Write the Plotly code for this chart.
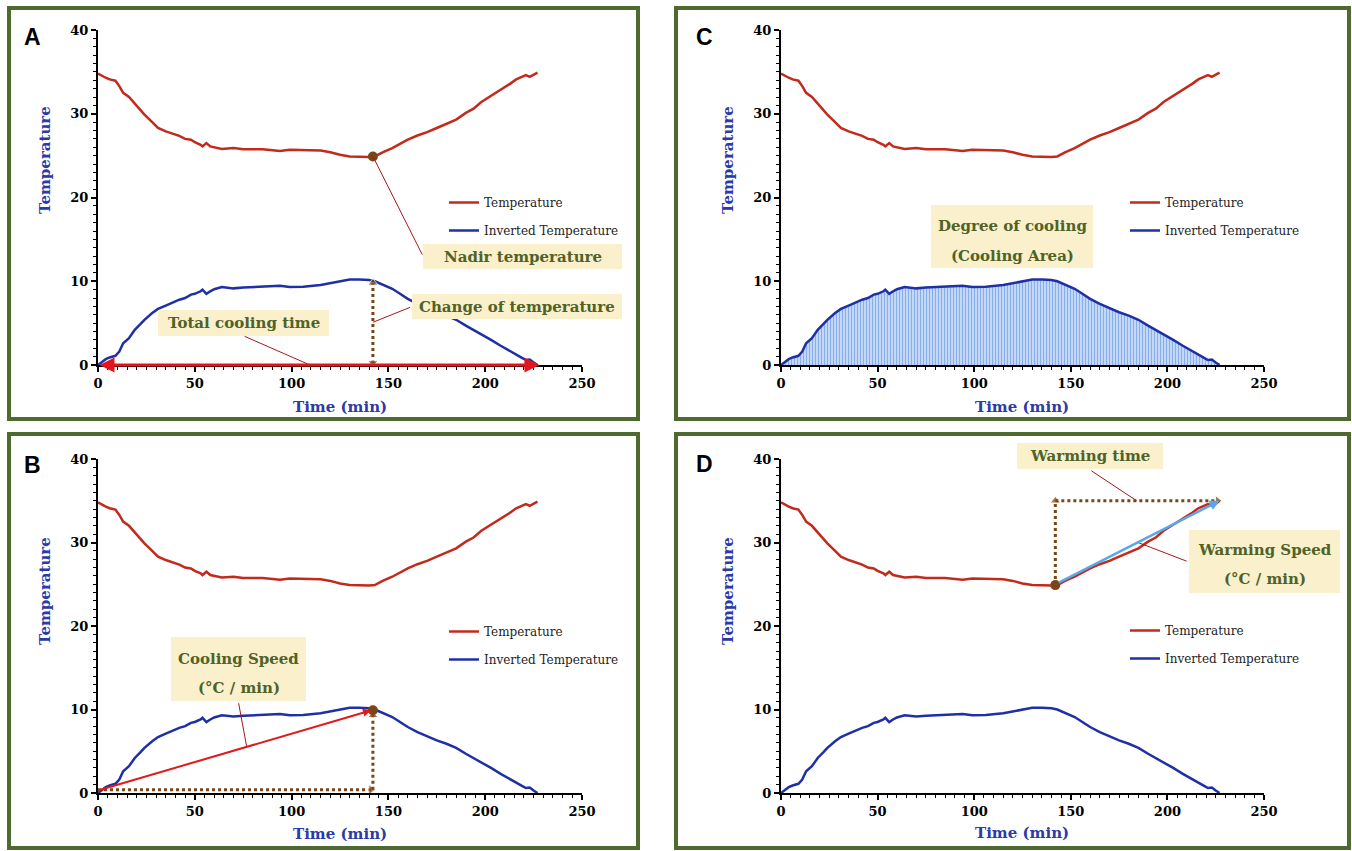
import plotly.graph_objects as go

# ---------------- data ----------------
time_min = [0, 2, 4, 6, 8, 9, 11, 13, 16, 19, 22, 24, 28, 31, 35, 38, 42, 45, 48, 50,
            53, 54, 56, 58, 60, 64, 70, 75, 85, 94, 99, 106, 115, 120, 125, 130, 135,
            140, 143, 147, 152, 156, 160, 165, 170, 175, 180, 185, 190, 194, 198, 203,
            208, 213, 216, 219, 221, 223, 225, 227]

temperature = [34.8, 34.5, 34.3, 34.1, 34.0, 33.95, 33.3, 32.5, 32.0, 31.2, 30.5, 29.9,
               29.0, 28.3, 27.9, 27.7, 27.35, 27.0, 26.9, 26.6, 26.3, 26.1, 26.5, 26.1,
               26.0, 25.8, 25.9, 25.75, 25.75, 25.55, 25.7, 25.65, 25.6, 25.4, 25.1,
               24.9, 24.85, 24.85, 24.9, 25.4, 25.9, 26.4, 26.9, 27.4, 27.8, 28.3, 28.8,
               29.3, 30.1, 30.6, 31.4, 32.1, 32.8, 33.6, 34.1, 34.4, 34.6, 34.4, 34.7, 34.9]

inverted_temperature = [0.0, 0.4, 0.7, 0.9, 1.0, 1.1, 1.6, 2.6, 3.2, 4.2, 4.9, 5.4, 6.2,
                        6.7, 7.1, 7.4, 7.8, 8.0, 8.4, 8.5, 8.8, 9.0, 8.5, 8.8, 9.05, 9.3,
                        9.15, 9.25, 9.35, 9.45, 9.3, 9.35, 9.55, 9.75, 10.0, 10.2, 10.2,
                        10.15, 10.0, 9.6, 9.1, 8.5, 7.9, 7.3, 6.8, 6.3, 5.9, 5.4, 4.7, 4.2,
                        3.7, 3.0, 2.3, 1.6, 1.2, 0.85, 0.6, 0.65, 0.3, 0.0]

# key points used by the annotation arrows
nadir_time = 142
nadir_temp = 24.9
inverted_peak = 9.9
start_level = 0.4
warm_end_time = 227
warm_end_temp = 35.0
total_time_end = 228

x_ticks = [0, 50, 100, 150, 200, 250]
y_ticks = [0, 10, 20, 30, 40]

# ---------------- styles ----------------
W, H = 1352, 851
RED = "#c22a1c"
BLUE = "#1f2fa6"
BROWN = "#7a4517"
LINK = "#a3191b"
BOX = "#faf0cb"
BOX_TEXT = "#4f6228"
TITLE_BLUE = "#2b3aa8"
FRAME = "#4f6a2e"
SERIF = "DejaVu Serif"


def px(x):
    return x / W


def py(y):
    return 1 - y / H


fig = go.Figure()

cols = {"L": (98, 582), "R": (781, 1264)}
rows = {"T": (30, 365), "B": (459, 793)}
panels = [
    ("A", "x", "y", "legend", "L", "T"),
    ("C", "x2", "y2", "legend2", "R", "T"),
    ("B", "x3", "y3", "legend3", "L", "B"),
    ("D", "x4", "y4", "legend4", "R", "B"),
]

layout_axes = {}
for letter, xa, ya, leg, c, r in panels:
    x0, x1 = cols[c]
    y0, y1 = rows[r]
    xname = "xaxis" + xa[1:]
    yname = "yaxis" + ya[1:]
    common = dict(showline=True, linecolor="black", linewidth=2, ticks="outside",
                  ticklen=5, tickwidth=1.5, tickcolor="black", showgrid=False,
                  zeroline=False, fixedrange=True, automargin=False,
                  tickfont=dict(family=SERIF, size=13, color="black", weight="bold"))
    layout_axes[xname] = dict(common, domain=[px(x0), px(x1)], range=[0, 250],
                              tickmode="array", tickvals=x_ticks, anchor=ya,
                              minor=dict(tickmode="linear", tick0=0, dtick=5,
                                         ticks="outside", ticklen=3, tickwidth=1,
                                         tickcolor="black"))
    layout_axes[yname] = dict(common, domain=[py(y1), py(y0)], range=[0, 40],
                              tickmode="array", tickvals=y_ticks, anchor=xa,
                              minor=dict(tickmode="linear", tick0=0, dtick=1,
                                         ticks="outside", ticklen=3, tickwidth=1,
                                         tickcolor="black"))

    if letter == "C":
        fig.add_trace(go.Scatter(
            x=time_min, y=inverted_temperature, mode="lines", fill="tozeroy",
            line=dict(width=0, color=BLUE), showlegend=False, hoverinfo="skip",
            fillpattern=dict(shape="|", fgcolor="#2f72da", bgcolor="#dfeafb",
                             size=3, solidity=0.55),
            xaxis=xa, yaxis=ya))

    fig.add_trace(go.Scatter(
        x=time_min, y=temperature, name="Temperature", mode="lines",
        line=dict(color=RED, width=2.5), xaxis=xa, yaxis=ya, legend=leg,
        legendgroup=leg + "t", cliponaxis=False))
    fig.add_trace(go.Scatter(
        x=time_min, y=inverted_temperature, name="Inverted Temperature", mode="lines",
        line=dict(color=BLUE, width=2.5), xaxis=xa, yaxis=ya, legend=leg,
        legendgroup=leg + "i", cliponaxis=False))

layout_legends = {}
legend_pos = {"legend": (444, 188), "legend2": (1125, 188),
              "legend3": (444, 617), "legend4": (1125, 616)}
for leg, (lx, ly) in legend_pos.items():
    layout_legends[leg] = dict(x=px(lx), y=py(ly), xanchor="left", yanchor="top",
                               bgcolor="rgba(0,0,0,0)", traceorder="grouped",
                               tracegroupgap=9, itemwidth=30,
                               font=dict(family=SERIF, size=12, color="#222"))


def dotted(xs, ys, symbols, xa, ya):
    fig.add_trace(go.Scatter(
        x=xs, y=ys, mode="lines+markers", showlegend=False, hoverinfo="skip",
        line=dict(color=BROWN, width=3, dash="dot"),
        marker=dict(symbol=symbols, size=[0 if s == "circle" else 9 for s in symbols],
                    color=BROWN),
        xaxis=xa, yaxis=ya, cliponaxis=False))


def dot(x, y, xa, ya):
    fig.add_trace(go.Scatter(
        x=[x], y=[y], mode="markers", showlegend=False, hoverinfo="skip",
        marker=dict(color=BROWN, size=10), xaxis=xa, yaxis=ya, cliponaxis=False))


# ---- Panel A ----
dotted([nadir_time, nadir_time], [0.25, inverted_peak - 0.1],
       ["triangle-down", "triangle-up"], "x", "y")
dot(nadir_time, nadir_temp, "x", "y")
# ---- Panel B ----
dotted([0, nadir_time - 1], [start_level, start_level], ["circle", "triangle-right"], "x3", "y3")
dotted([nadir_time, nadir_time], [start_level, inverted_peak - 0.6], ["circle", "triangle-up"], "x3", "y3")
dot(nadir_time, inverted_peak, "x3", "y3")
# ---- Panel D ----
dotted([nadir_time, nadir_time], [nadir_temp, warm_end_temp], ["circle", "triangle-up"], "x4", "y4")
dotted([nadir_time, warm_end_time - 1], [warm_end_temp, warm_end_temp], ["circle", "triangle-right"], "x4", "y4")
dot(nadir_time, nadir_temp, "x4", "y4")

annotations = []
shapes = []

frames = [(9, 8, 638, 419), (676, 8, 1349, 419), (9, 434, 638, 848), (676, 434, 1349, 848)]
for x0, y0, x1, y1 in frames:
    shapes.append(dict(type="rect", xref="paper", yref="paper", x0=px(x0), x1=px(x1),
                       y0=py(y1), y1=py(y0), line=dict(color=FRAME, width=4),
                       fillcolor="rgba(0,0,0,0)", layer="above"))


def label(text, x, y, font, angle=0):
    annotations.append(dict(text=text, x=px(x), y=py(y), xref="paper", yref="paper",
                            xanchor="center", yanchor="middle", showarrow=False,
                            textangle=angle, font=font))


letter_pos = {"A": (32, 37), "C": (704, 37), "B": (32, 465), "D": (704, 464)}
for letter, (lx, ly) in letter_pos.items():
    label(letter, lx, ly, dict(family="Liberation Sans", size=23, color="black", weight="bold"))
for (tx, ty) in [(45, 160), (728, 160), (45, 591), (728, 591)]:
    label("Temperature", tx, ty, dict(family=SERIF, size=15, color=TITLE_BLUE, weight="bold"), -90)
for (tx, ty) in [(340, 407), (1022, 407), (340, 834), (1022, 833)]:
    label("Time (min)", tx, ty, dict(family=SERIF, size=15, color=TITLE_BLUE, weight="bold"))


def connector(xa, ya, hx, hy, tx, ty):
    annotations.append(dict(text="", xref=xa, yref=ya, x=hx, y=hy, axref=xa, ayref=ya,
                            ax=tx, ay=ty, showarrow=True, arrowhead=0, arrowwidth=1,
                            arrowcolor=LINK, standoff=0, startstandoff=0))


connector("x", "y", nadir_time, nadir_temp, 167.9, 13.0)
connector("x", "y", nadir_time, 5.1, 162.0, 6.96)
connector("x", "y", 109.5, 0.0, 75.0, 3.5)
connector("x3", "y3", 76.8, 5.55, 72.5, 10.93)
connector("x4", "y4", 184.1, warm_end_temp, 159.9, 38.7)
connector("x4", "y4", 184.8, 30.0, 210.7, 27.7)

# red double arrow: total cooling time along the time axis
annotations.append(dict(text="", xref="x", yref="y", x=total_time_end, y=0.0, axref="x",
                        ayref="y", ax=0, ay=0.0, showarrow=True, arrowhead=2,
                        arrowside="end+start", arrowsize=1, arrowwidth=3,
                        arrowcolor="#e3141b", standoff=0, startstandoff=0))
annotations.append(dict(text="", xref="x3", yref="y3", x=nadir_time - 1, y=inverted_peak,
                        axref="x3", ayref="y3", ax=0, ay=start_level - 0.1, showarrow=True,
                        arrowhead=2, arrowsize=0.8, arrowwidth=2, arrowcolor="#e01a1a",
                        standoff=0))
annotations.append(dict(text="", xref="x4", yref="y4", x=warm_end_time, y=warm_end_temp,
                        axref="x4", ayref="y4", ax=nadir_time + 1, ay=nadir_temp + 0.2,
                        showarrow=True, arrowhead=2, arrowsize=0.8, arrowwidth=2.5,
                        arrowcolor="#5aa7e8", standoff=0))

boxes = [
    ((423, 244, 622, 269), ["Nadir temperature"], [256.5]),
    ((412, 294, 622, 319), ["Change of temperature"], [306.5]),
    ((158, 310, 329, 336), ["Total cooling time"], [323]),
    ((171, 637, 306, 701), ["Cooling Speed", "(°C / min)"], [659, 688]),
    ((931, 205, 1093, 268), ["Degree of cooling", "(Cooling Area)"], [226, 256]),
    ((1017, 443, 1163, 469), ["Warming time"], [456]),
    ((1189, 530, 1340, 593), ["Warming Speed", "(°C / min)"], [550, 579]),
]
for (x0, y0, x1, y1), lines, ys in boxes:
    shapes.append(dict(type="rect", xref="paper", yref="paper", x0=px(x0), x1=px(x1),
                       y0=py(y1), y1=py(y0), line=dict(width=0), fillcolor=BOX,
                       layer="above"))
    for t, yy in zip(lines, ys):
        label(t, (x0 + x1) / 2, yy, dict(family=SERIF, size=15, color=BOX_TEXT, weight="bold"))

fig.update_layout(
    width=W, height=H, margin=dict(l=0, r=0, t=0, b=0, autoexpand=False),
    paper_bgcolor="white", plot_bgcolor="white", showlegend=True,
    annotations=annotations, shapes=shapes, hovermode=False,
    **layout_axes, **layout_legends,
)

fig.write_html("out.html", config={"displayModeBar": False},
               post_script="document.body.style.margin='0';document.body.style.overflow='hidden';")
